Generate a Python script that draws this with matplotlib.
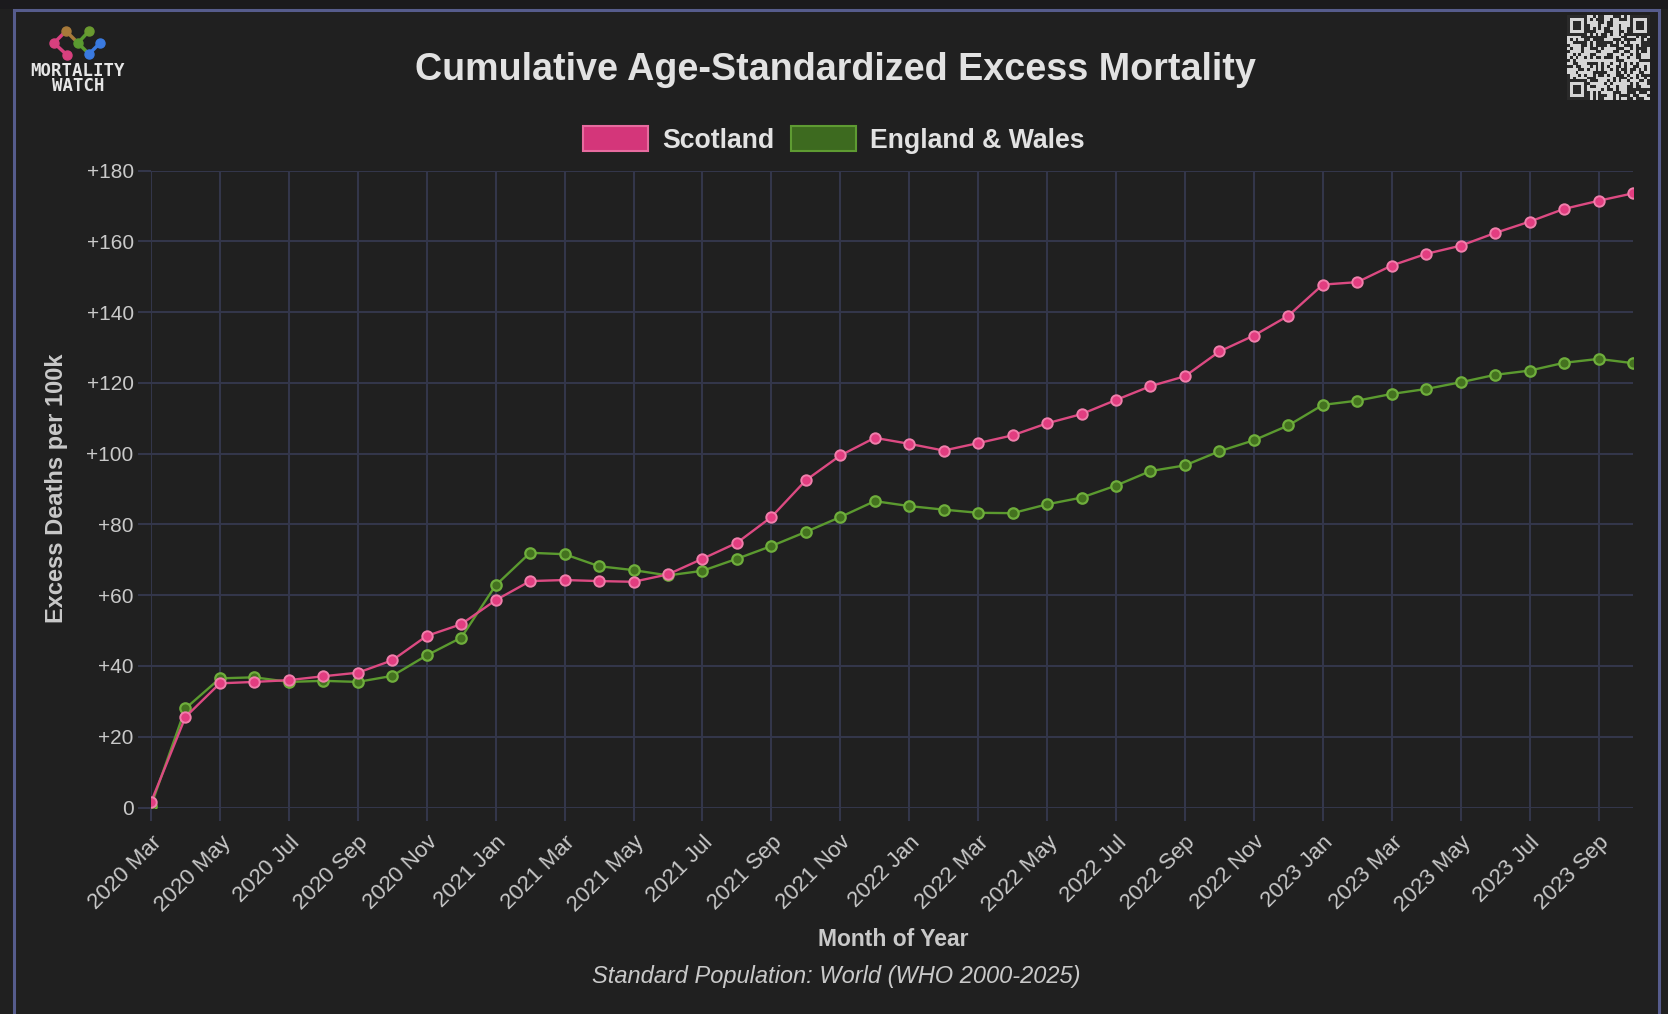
import hashlib

import numpy as np
import pandas as pd
import matplotlib.pyplot as plt
from matplotlib.colors import ListedColormap
from matplotlib.patches import Rectangle

plt.rcParams["font.family"] = ["Liberation Sans", "DejaVu Sans"]

# monthly cumulative excess deaths per 100k, Mar 2020 .. Oct 2023
months = pd.period_range("2020-03", "2023-10", freq="M")
month_labels = [p.strftime("%Y %b") for p in months]

scotland = [
    1.5, 25.6, 35.1, 35.5, 36.0, 37.1, 38.1, 41.6, 48.5, 51.8,
    58.6, 64.0, 64.3, 64.0, 63.8, 65.9, 70.3, 74.8, 82.1, 92.5, 99.5, 104.5,
    102.8, 100.9, 103.0, 105.2, 108.6, 111.2, 115.2, 119.1, 121.9, 128.9, 133.4, 139.0,
    147.8, 148.5, 153.2, 156.5, 158.8, 162.4, 165.6, 169.2, 171.5, 173.6,
]
england_wales = [
    0.5, 28.0, 36.5, 36.8, 35.5, 35.8, 35.5, 37.2, 43.0, 48.0,
    62.8, 72.0, 71.6, 68.2, 67.1, 65.6, 66.9, 70.3, 73.9, 77.9, 82.1, 86.6,
    85.2, 84.2, 83.3, 83.2, 85.7, 87.6, 91.0, 95.1, 96.7, 100.7, 103.8, 108.0,
    113.8, 115.0, 116.9, 118.3, 120.2, 122.3, 123.5, 125.7, 126.8, 125.6,
]
series_names = ["Scotland", "England & Wales"]

W, H = 1668, 1014
BG = "#202020"
GRID = "#33364a"
TXT = "#e2e2e2"
TICK_TXT = "#c9c9c9"


def fx(px):
    return px / W


def fy(py):
    return 1 - py / H


fig = plt.figure(figsize=(W / 100, H / 100), dpi=100, facecolor=BG)

# top strip + card border
fig.patches.append(Rectangle((0, fy(9)), 1, 9 / H, transform=fig.transFigure,
                             facecolor="#1b1a1d", edgecolor="none"))
fig.patches.append(Rectangle((fx(14), fy(1030)), fx(1659 - 14), (1030 - 10) / H,
                             transform=fig.transFigure, fill=False,
                             edgecolor="#565c8c", linewidth=2.2))

ax = fig.add_axes([fx(151), fy(807.5), fx(1633 - 151), (807.5 - 170.7) / H])
ax.set_facecolor("none")
for s in ax.spines.values():
    s.set_visible(False)

x = np.arange(len(months))
ax.plot(x, england_wales, color="#5b9a2f", lw=1.7, marker="o", ms=7.5,
        mfc="#44721f", mec="#6fae3c", mew=1.6, zorder=3)
ax.plot(x, scotland, color="#dc4a82", lw=1.7, marker="o", ms=7.5,
        mfc="#e23d80", mec="#f07fab", mew=1.4, zorder=4)

ax.set_xlim(0, len(months) - 1)
ax.set_ylim(0, 180)
ax.set_yticks(range(0, 181, 20))
ax.set_yticklabels(["0" if v == 0 else f"+{v}" for v in range(0, 181, 20)])
ax.set_xticks(x[::2])
ax.set_xticklabels(month_labels[::2], rotation=45, ha="right", va="top",
                   rotation_mode="anchor")
ax.grid(True, color=GRID, lw=1.5, zorder=0)
ax.set_axisbelow(True)
ax.tick_params(axis="both", length=9.5, width=1.5, color=GRID,
               labelcolor=TICK_TXT)
ax.tick_params(axis="y", labelsize=15, pad=3)
ax.tick_params(axis="x", labelsize=16, pad=8)

# legend
handles = [
    Rectangle((0, 0), 1, 1, facecolor="#d4367a", edgecolor="#e76b9f", lw=1.5),
    Rectangle((0, 0), 1, 1, facecolor="#3d6a1f", edgecolor="#5e9b32", lw=1.5),
]
leg = fig.legend(handles, series_names, loc="center", bbox_to_anchor=(fx(834), fy(140)),
                 ncol=2, frameon=False, fontsize=19.2, handlelength=2.43,
                 handleheight=1.08, handletextpad=0.55, columnspacing=0.6)
for t in leg.get_texts():
    t.set_color(TXT)
    t.set_fontweight("bold")

fig.text(fx(835), fy(70), "Cumulative Age-Standardized Excess Mortality",
         ha="center", va="center", fontsize=27.2, fontweight="bold", color=TXT)
fig.text(fx(56), fy(488), "Excess Deaths per 100k", rotation=90,
         ha="center", va="center", fontsize=17, fontweight="bold", color=TICK_TXT)
fig.text(fx(893), fy(940), "Month of Year", ha="center", va="center",
         fontsize=16.5, fontweight="bold", color=TICK_TXT)
fig.text(fx(836), fy(976), "Standard Population: World (WHO 2000-2025)",
         ha="center", va="center", fontsize=17, style="italic", color=TICK_TXT)

# logo
lax = fig.add_axes([0, 0, 1, 1], zorder=5)
lax.set_xlim(0, W)
lax.set_ylim(H, 0)
lax.axis("off")
nodes = {
    "p1": ((54, 43), "#d8407f"), "p2": ((67, 55), "#d8407f"),
    "o1": ((66, 31), "#a87a3a"), "g1": ((78, 43), "#5a9a30"),
    "g2": ((89, 31), "#6a9a30"), "b1": ((89, 54), "#3a7ae0"),
    "b2": ((100, 43), "#3a7ae0"),
}
links = [("p1", "o1"), ("p1", "p2"), ("o1", "g1"), ("g1", "g2"),
         ("g1", "b1"), ("b1", "b2")]
for a, b in links:
    (xa, ya), ca = nodes[a]
    (xb, yb), cb = nodes[b]
    lax.plot([xa, xb], [ya, yb], color=ca, lw=2.5, solid_capstyle="round")
for (nx, ny), c in nodes.values():
    lax.plot(nx, ny, "o", ms=6.5, color=c)
lax.text(78, 71, "MORTALITY", ha="center", va="center", fontsize=12.5,
         fontweight="bold", family="DejaVu Sans Mono", color="#e6e6e6")
lax.text(78, 86, "WATCH", ha="center", va="center", fontsize=12.5,
         fontweight="bold", family="DejaVu Sans Mono", color="#e6e6e6")

# qr code (decorative pattern)
n = 29
bits = []
h = hashlib.sha256(b"https://www.mortality.watch").digest()
while len(bits) < n * n:
    h = hashlib.sha256(h).digest()
    for byte in h:
        bits.extend((byte >> k) & 1 for k in range(8))
qr = np.array(bits[: n * n]).reshape(n, n)
finder = np.ones((7, 7), dtype=int)
finder[1:6, 1:6] = 0
finder[2:5, 2:5] = 1
for r0, c0 in [(0, 0), (0, n - 7), (n - 7, 0)]:
    qr[r0:r0 + 7, c0:c0 + 7] = finder
qax = fig.add_axes([fx(1567), fy(100), fx(83), 85 / H], zorder=5)
qax.imshow(1 - qr, cmap=ListedColormap(["#2a2a2a", "#d6d6d6"]),
           interpolation="nearest", aspect="auto")
qax.axis("off")

fig.savefig("out.png", dpi=100, facecolor=BG)
plt.close(fig)
